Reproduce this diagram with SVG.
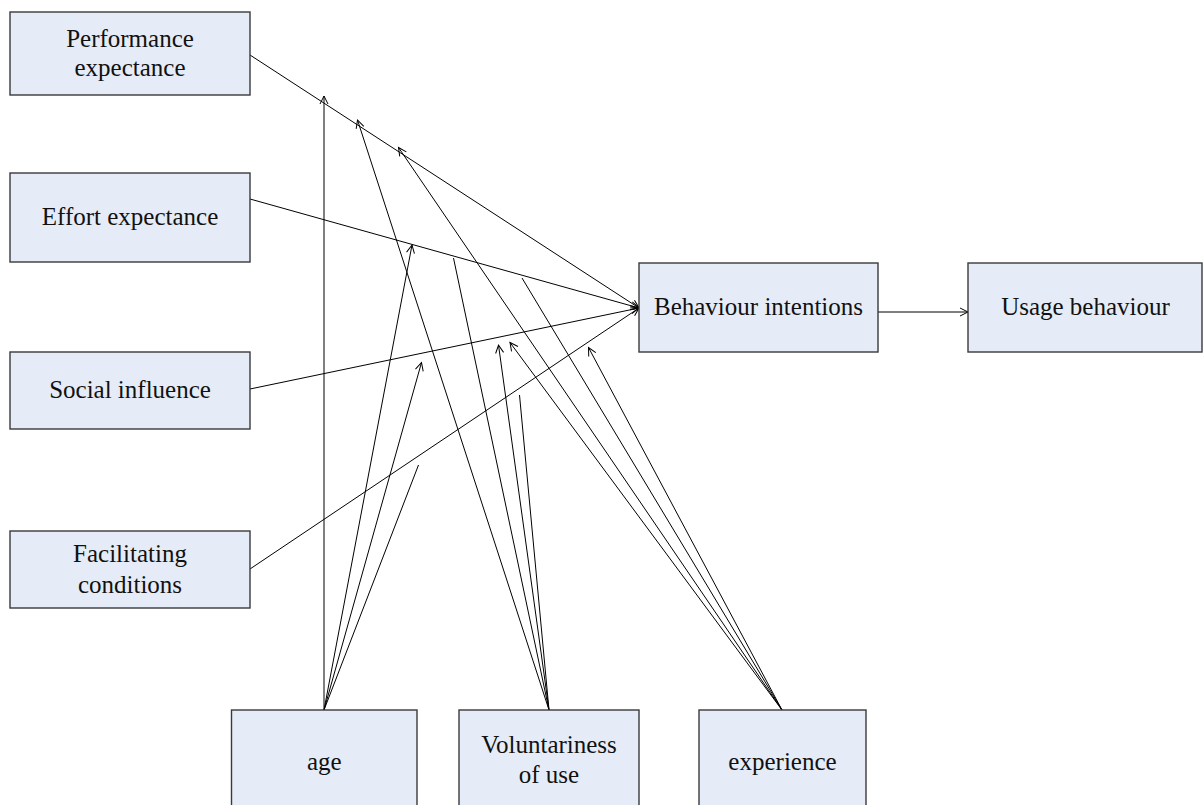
<svg xmlns="http://www.w3.org/2000/svg" width="1203" height="805" viewBox="0 0 1203 805">
  <defs>
    <style>
      .box { fill: #e6ecf7; stroke: #3a3a3a; stroke-width: 1.4; }
      .lbl { font-family: "Liberation Serif", "Times New Roman", serif; font-size: 25px; fill: #111; text-anchor: middle; }
      .conn { stroke: #000; stroke-width: 1; fill: none; }
      .arr { marker-end: url(#open); }
    </style>
    <marker id="open" markerUnits="userSpaceOnUse" markerWidth="12" markerHeight="12" refX="8" refY="4" orient="auto" overflow="visible">
      <path d="M0,0 L8,4 L0,8" fill="none" stroke="#000" stroke-width="1"/>
    </marker>
  </defs>
  <rect width="1203" height="805" fill="#fff"/>

  <!-- connectors -->
  <g id="connectors">
    <!-- determinants to intention -->
    <path class="conn arr" d="M250,55 L639,308"/>
    <path class="conn arr" d="M250,199 L639,308"/>
    <path class="conn arr" d="M250,389 L639,308"/>
    <path class="conn arr" d="M250,569 L639,308"/>
    <path class="conn arr" d="M878,312 L968,312"/>
    <!-- age moderators -->
    <path class="conn arr" d="M324,710 L324,96"/>
    <path class="conn arr" d="M324,710 L412,245"/>
    <path class="conn arr" d="M324,710 L421.5,362.5"/>
    <path class="conn" d="M324,710 L418.5,465"/>
    <!-- voluntariness moderators -->
    <path class="conn arr" d="M549,710 L357.5,120"/>
    <path class="conn" d="M549,710 L453.5,258"/>
    <path class="conn arr" d="M549,710 L498.5,345"/>
    <path class="conn" d="M549,710 L519.5,395"/>
    <!-- experience moderators -->
    <path class="conn arr" d="M782,710 L398.5,147.5"/>
    <path class="conn" d="M782,710 L522,278"/>
    <path class="conn arr" d="M782,710 L510,342.5"/>
    <path class="conn arr" d="M782,710 L588.5,347.5"/>
  </g>

  <g id="performance">
    <rect class="box" x="10" y="12" width="240" height="83"/>
    <text class="lbl" x="130" y="46.5">Performance</text>
    <text class="lbl" x="130" y="76">expectance</text>
  </g>
  <g id="effort">
    <rect class="box" x="10" y="173" width="240" height="89"/>
    <text class="lbl" x="130" y="225">Effort expectance</text>
  </g>
  <g id="social">
    <rect class="box" x="10" y="352" width="240" height="77"/>
    <text class="lbl" x="130" y="397.5">Social influence</text>
  </g>
  <g id="facilitating">
    <rect class="box" x="10" y="531" width="240" height="77"/>
    <text class="lbl" x="130" y="561.5">Facilitating</text>
    <text class="lbl" x="130" y="592.5">conditions</text>
  </g>
  <g id="intention">
    <rect class="box" x="639" y="263" width="239" height="89"/>
    <text class="lbl" x="758.5" y="315">Behaviour intentions</text>
  </g>
  <g id="usage">
    <rect class="box" x="968" y="263" width="234" height="89"/>
    <text class="lbl" x="1085.5" y="315">Usage behaviour</text>
  </g>
  <g id="age">
    <rect class="box" x="231.5" y="710" width="185.5" height="100"/>
    <text class="lbl" x="324.3" y="770">age</text>
  </g>
  <g id="voluntariness">
    <rect class="box" x="459" y="710" width="180" height="100"/>
    <text class="lbl" x="549" y="753">Voluntariness</text>
    <text class="lbl" x="549" y="783">of use</text>
  </g>
  <g id="experience">
    <rect class="box" x="699" y="710" width="167" height="100"/>
    <text class="lbl" x="782.5" y="769.5">experience</text>
  </g>
</svg>
